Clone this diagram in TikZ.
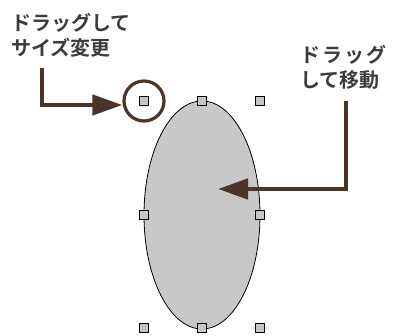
\documentclass[tikz,border=0pt]{standalone}
\usepackage{fontspec}
\newfontfamily\jp{Noto Sans CJK JP}[BoldFont={Noto Sans CJK JP Bold}]
\usetikzlibrary{arrows.meta,shapes.geometric}
\definecolor{brownline}{HTML}{4A3528}
\definecolor{txt}{HTML}{3F3A40}
\definecolor{shapegray}{HTML}{C8C8C8}
\tikzset{
  handle/.style={draw=black, line width=1.6pt, fill=gray!45, minimum size=9pt, inner sep=0pt, outer sep=0pt},
  label/.style={text=txt, font=\jp\bfseries\fontsize{20}{25}\selectfont, align=left, inner sep=0pt, anchor=north west},
  callout/.style={draw=brownline, line width=4.5pt, -{Triangle[length=30pt,width=20pt]}},
}
\begin{document}
\begin{tikzpicture}[x=1pt,y=-1pt]
\useasboundingbox (0,0) rectangle (400,336);
\node[draw=black, line width=0.8pt, fill=shapegray, ellipse, minimum width=116pt, minimum height=228pt, inner sep=0pt] (shape) at (202,215) {};
\foreach \n/\x/\y in {tl/144/101, tm/202/101, tr/260/101, ml/144/215, mr/260/215, bl/144/328, bm/202/328, br/260/328}
  \node[handle] (\n) at (\x,\y) {};
\node[draw=brownline, line width=3.2pt, circle, minimum size=40pt, inner sep=0pt] (ring) at (144,101) {};
\node[label] (t1) at (11,13) {ドラッグして\\サイズ変更};
\node[label] (t2) at (300,45) {ド\hspace{2pt}ラ\hspace{2pt}ッ\hspace{2pt}グ\\して移動};
\coordinate (a1s) at (42,68);
\coordinate (a1c) at (42,105);
\draw[callout] (a1s) -- (a1c) -- (ring.west |- a1c);
\coordinate (a2s) at (346,101);
\coordinate (a2c) at (346,189);
\coordinate (a2e) at (218,189);
\draw[callout] (a2s) -- (a2c) -- (a2e);
\end{tikzpicture}
\end{document}
